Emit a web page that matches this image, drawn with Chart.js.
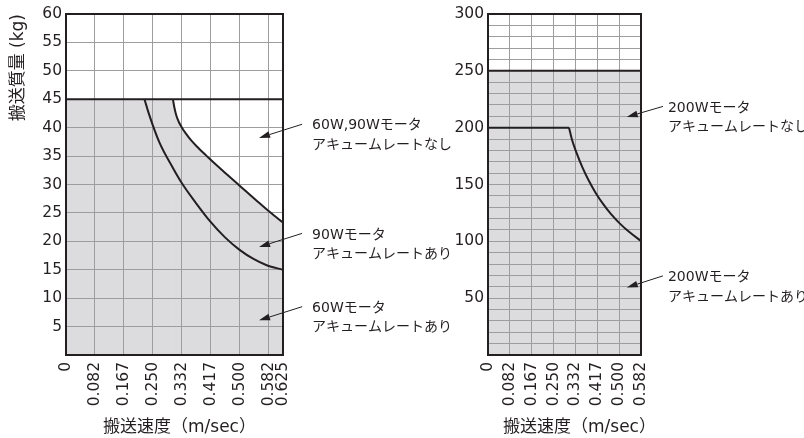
<!DOCTYPE html>
<html><head><meta charset="utf-8">
<script src="https://cdn.jsdelivr.net/npm/chart.js@4.4.1/dist/chart.umd.min.js"></script>
<style>
html,body{margin:0;padding:0;background:#fff;width:804px;height:438px;overflow:hidden}
canvas{position:absolute;top:0}
#c1{left:0}
#c2{left:420px}
</style></head><body>
<canvas id="c1" width="470" height="438"></canvas>
<canvas id="c2" width="384" height="438"></canvas>
<script>
// ---------- data ----------
const speedTicksLeft  = [0, 0.0833, 0.1667, 0.25, 0.3333, 0.4167, 0.5, 0.5833, 0.625];
const speedLabelsLeft = ['0','0.082','0.167','0.250','0.332','0.417','0.500','0.582','0.625'];
const speedTicksRight  = [0, 0.0833, 0.1667, 0.25, 0.3333, 0.4167, 0.5, 0.5833];
const speedLabelsRight = ['0','0.082','0.167','0.250','0.332','0.417','0.500','0.582'];
const massLabelsLeft  = ['5','10','15','20','25','30','35','40','45','50','55','60'];
const massLabelsRight = ['50','100','150','200','250','300'];

// 60W,90W motor without accumulation: 45 kg limit
const limit6090Speed = [0, 0.625];
const limit6090Mass  = [45, 45];
// 90W with accumulation
const plateau90Speed = [0, 0.308];
const plateau90Mass  = [45, 45];
const curve90Speed = [0.308, 0.312, 0.318, 0.325, 0.334, 0.345, 0.36, 0.38, 0.409, 0.45, 0.5, 0.55, 0.588, 0.625];
const curve90Mass  = [45, 43.6, 42.1, 41.0, 40.0, 39.0, 37.8, 36.5, 34.8, 32.5, 29.8, 27.1, 25.1, 23.3];
// 60W with accumulation
const curve60Speed = [0.226, 0.24, 0.269, 0.308, 0.332, 0.376, 0.414, 0.458, 0.5, 0.54, 0.578, 0.625];
const curve60Mass  = [45, 42.2, 37.4, 32.9, 30.4, 26.6, 23.6, 20.7, 18.5, 16.9, 15.8, 15.0];

// 200W motor
const limit200Speed = [0, 0.5833];
const limit200Mass  = [250, 250];
const plateau200Speed = [0, 0.309];
const plateau200Mass  = [200, 200];
const curve200Speed = [0.309, 0.32, 0.338, 0.36, 0.383, 0.41, 0.44, 0.47, 0.503, 0.54, 0.5833];
const curve200Mass  = [200, 189.6, 177.6, 165.0, 153.9, 142.8, 132.5, 123.7, 115.6, 107.9, 100.3];

// ---------- styles ----------
const FONT = "'DejaVu Sans', 'Noto Sans CJK JP', sans-serif";
const INK = '#231f20';
const GRID = '#9d9d9d';
const FILL = '#dcdcde';

const pts = (xs, ys) => xs.map((x, i) => ({x, y: ys[i]}));
const lineDs = (data, extra) => Object.assign({
  data, borderColor: INK, borderWidth: 2, pointRadius: 0, fill: false, tension: 0
}, extra || {});

const notesPlugin = {
  id: 'notes',
  afterDatasetsDraw(chart) {
    const {ctx, chartArea: a} = chart;
    ctx.save();
    ctx.strokeStyle = INK; ctx.lineWidth = 2;
    ctx.strokeRect(a.left, a.top, a.right - a.left, a.bottom - a.top);
    ctx.restore();
  },
  afterDraw(chart, args, opts) {
    const {ctx, chartArea: a} = chart;
    const xs = chart.scales.x, ys = chart.scales.y;
    ctx.save();
    ctx.fillStyle = INK; ctx.strokeStyle = INK;
    (opts.items || []).forEach(n => {
      const tx = xs.getPixelForValue(n.tip[0]), ty = ys.getPixelForValue(n.tip[1]);
      const sx = xs.getPixelForValue(n.tail[0]), sy = ys.getPixelForValue(n.tail[1]);
      const ang = Math.atan2(ty - sy, tx - sx);
      const head = 11, half = 3.4;
      const bx = tx - head * Math.cos(ang), by = ty - head * Math.sin(ang);
      ctx.lineWidth = 1;
      ctx.beginPath(); ctx.moveTo(sx, sy); ctx.lineTo(bx, by); ctx.stroke();
      ctx.beginPath(); ctx.moveTo(tx, ty);
      ctx.lineTo(bx + half * Math.sin(ang), by - half * Math.cos(ang));
      ctx.lineTo(bx - half * Math.sin(ang), by + half * Math.cos(ang));
      ctx.closePath(); ctx.fill();
      ctx.font = '14px ' + FONT;
      ctx.textAlign = 'left'; ctx.textBaseline = 'middle';
      n.lines.forEach((t, i) => ctx.fillText(t, sx + opts.textDx, sy + 1.5 + i * 19.5));
    });
    if (opts.xTitle) {
      ctx.font = '17px ' + FONT;
      ctx.textAlign = 'left'; ctx.textBaseline = 'middle';
      ctx.fillText(opts.xTitle, a.left + opts.xTitleDx, 427.5);
    }
    ctx.restore();
  }
};

function xScale(max, ticks, labels) {
  return {
    type: 'linear', min: 0, max,
    afterBuildTicks: s => { s.ticks = ticks.map(v => ({value: v})); },
    afterFit: s => { s.height = 83; },
    ticks: { autoSkip: false, minRotation: 90, maxRotation: 90, padding: 7, color: INK,
             font: {family: FONT, size: 15.5}, callback: (v, i) => labels[i] },
    grid: { color: GRID, lineWidth: 1, drawTicks: false },
    border: { display: false }
  };
}
function yScale(max, step, labels, width, title) {
  return {
    type: 'linear', min: 0, max,
    afterFit: s => { s.width = width; },
    ticks: { stepSize: step, padding: 4, color: INK, autoSkip: false,
             font: {family: FONT, size: 15.5},
             callback: v => labels.includes(String(v)) ? String(v) : '' },
    grid: { color: GRID, lineWidth: 1, drawTicks: false },
    border: { display: false },
    title: title ? { display: true, text: title, align: 'end', color: INK,
                     font: {family: FONT, size: 17}, padding: {top: 8, bottom: 0} } : {display: false}
  };
}

new Chart(document.getElementById('c1'), {
  type: 'line',
  data: { datasets: [
    lineDs(pts(limit6090Speed, limit6090Mass)),
    lineDs(pts(curve60Speed, curve60Mass), {cubicInterpolationMode: 'monotone'}),
    lineDs(pts(curve90Speed, curve90Mass), {cubicInterpolationMode: 'monotone', fill: 'origin', backgroundColor: FILL}),
    lineDs(pts(plateau90Speed, plateau90Mass), {fill: 'origin', backgroundColor: FILL, borderWidth: 0})
  ]},
  options: {
    responsive: false, animation: false, devicePixelRatio: 1,
    layout: { padding: {left: 0, top: 14, right: 187, bottom: 0} },
    plugins: {
      legend: {display: false}, tooltip: {enabled: false},
      filler: { drawTime: 'beforeDraw' },
      notes: {
        textDx: 10, xTitle: '搬送速度（m/sec）', xTitleDx: 37,
        items: [
          {tip: [0.556, 38.2], tail: [0.68, 40.6], lines: ['60W,90Wモータ', 'アキュームレートなし']},
          {tip: [0.556, 19.0], tail: [0.68, 21.4], lines: ['90Wモータ', 'アキュームレートあり']},
          {tip: [0.556, 6.1],  tail: [0.68, 8.5],  lines: ['60Wモータ', 'アキュームレートあり']}
        ]
      }
    },
    scales: {
      x: xScale(0.625, speedTicksLeft, speedLabelsLeft),
      y: yScale(60, 5, massLabelsLeft, 66, '搬送質量 (kg)')
    }
  },
  plugins: [notesPlugin]
});

new Chart(document.getElementById('c2'), {
  type: 'line',
  data: { datasets: [
    lineDs(pts(plateau200Speed, plateau200Mass)),
    lineDs(pts(curve200Speed, curve200Mass), {cubicInterpolationMode: 'monotone'}),
    lineDs(pts(limit200Speed, limit200Mass), {fill: 'origin', backgroundColor: FILL})
  ]},
  options: {
    responsive: false, animation: false, devicePixelRatio: 1,
    layout: { padding: {left: 0, top: 14, right: 163, bottom: 0} },
    plugins: {
      legend: {display: false}, tooltip: {enabled: false},
      filler: { drawTime: 'beforeDraw' },
      notes: {
        textDx: 5, xTitle: '搬送速度（m/sec）', xTitleDx: 15,
        items: [
          {tip: [0.529, 209.4], tail: [0.667, 218.7], lines: ['200Wモータ', 'アキュームレートなし']},
          {tip: [0.529, 59.4],  tail: [0.667, 69.6],  lines: ['200Wモータ', 'アキュームレートあり']}
        ]
      }
    },
    scales: {
      x: xScale(0.5833, speedTicksRight, speedLabelsRight),
      y: yScale(300, 10, massLabelsRight, 68, null)
    }
  },
  plugins: [notesPlugin]
});
</script>
</body></html>
